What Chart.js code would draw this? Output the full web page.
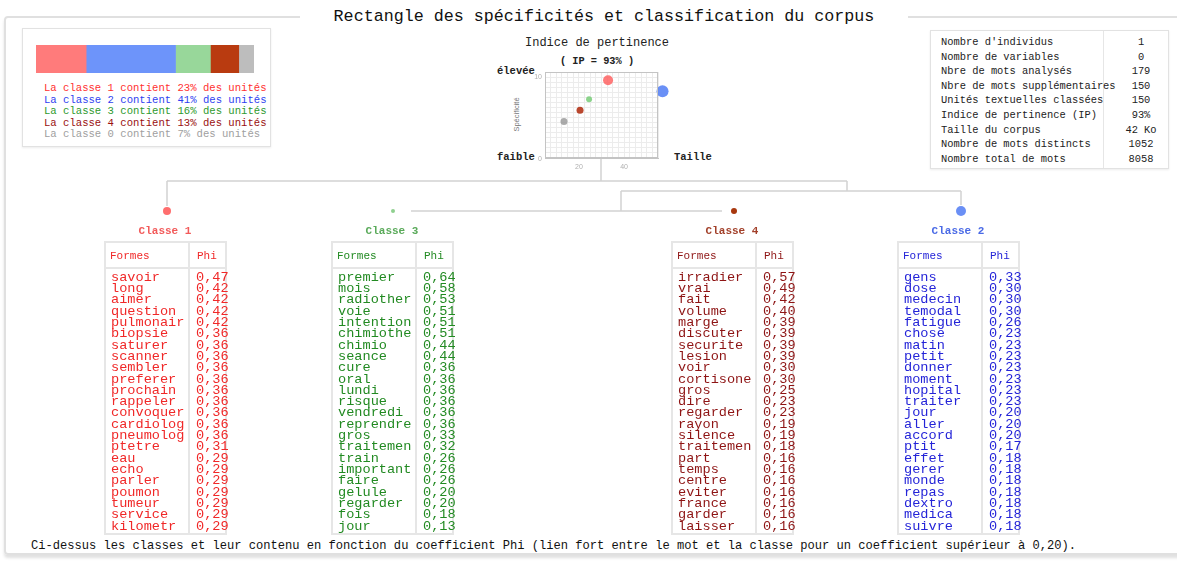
<!DOCTYPE html>
<html>
<head>
<meta charset="utf-8">
<script src="https://cdn.jsdelivr.net/npm/chart.js@4.4.0/dist/chart.umd.min.js"></script>
<style>
  html, body { margin: 0; padding: 0; background: #fff; width: 1177px; height: 567px; overflow: hidden; }
  body { position: relative; font-family: "Liberation Mono", "DejaVu Sans Mono", monospace; color: #222; }
  .abs { position: absolute; }
  #frame { left: 4px; top: 16px; width: 1200px; height: 535px; border: 2px solid #e0e0e0; border-radius: 4px;
           box-shadow: 0 3px 3px rgba(0,0,0,0.12); }
  #title { left: 300px; top: 7px; width: 608px; text-align: center; background: #fff; font-size: 16.7px; line-height: 20px; color: #111; }
  .box { border: 1px solid #e2e2e2; box-shadow: 0 1px 2px rgba(0,0,0,0.08); background: #fff; }
  .legline { font-size: 10.6px; line-height: 11.5px; white-space: pre; }
  .stat { font-size: 10.4px; line-height: 14.6px; white-space: pre; color: #222; }
  .lbl { font-size: 10.5px; font-weight: bold; color: #222; }
  .ctitle { font-size: 11px; font-weight: bold; text-align: center; width: 140px; }
  .tbl { border: 2px solid #e6e6e6; background: #fff; }
  .tbl .head { height: 24px; border-bottom: 2px solid #e6e6e6; font-size: 11px; line-height: 26px; }
  .tbl .div { position: absolute; top: 0; bottom: 0; width: 0; border-left: 2px solid #e6e6e6; }
  .col { position: absolute; font-size: 13.6px; line-height: 11.32px; white-space: pre; }
  #foot { left: 31px; top: 539px; font-size: 12.1px; line-height: 14px; white-space: pre; color: #111; }
</style>
</head>
<body>
<div id="frame" class="abs"></div>
<div id="title" class="abs">Rectangle des spécificités et classification du corpus</div>

<div class="abs box" style="left:22px;top:28px;width:247px;height:117px;"></div>
<canvas id="propChart" class="abs" width="218" height="28" style="left:36px;top:45px;"></canvas>
<div id="legend" class="abs" style="left:44px;top:83px;"></div>

<div class="abs" style="left:480px;top:35px;width:234px;text-align:center;font-size:12px;line-height:16px;">Indice de pertinence</div>
<div class="abs" style="left:480px;top:54px;width:234px;text-align:center;font-size:10.3px;font-weight:bold;line-height:14px;">( IP = 93% )</div>
<div class="abs lbl" style="left:497px;top:65px;">élevée</div>
<div class="abs lbl" style="left:497px;top:151px;">faible</div>
<div class="abs lbl" style="left:674px;top:151px;">Taille</div>
<div class="abs" style="left:488px;top:110px;width:56px;text-align:center;font-size:7.5px;color:#777;transform:rotate(-90deg);font-family:'Liberation Sans',sans-serif;">Spécificité</div>
<canvas id="ipChart" class="abs" width="230" height="115" style="left:480px;top:60px;"></canvas>

<div class="abs box" style="left:930px;top:30px;width:237px;height:137px;"></div>
<div class="abs" style="left:1103px;top:31px;height:137px;border-left:1px solid #e6e6e6;"></div>
<div id="stats" class="abs" style="left:941px;top:35px;"></div>

<canvas id="treeChart" class="abs" width="930" height="80" style="left:100px;top:150px;"></canvas>
<div id="tables"></div>

<div id="foot" class="abs">Ci-dessus les classes et leur contenu en fonction du coefficient Phi (lien fort entre le mot et la classe pour un coefficient supérieur à 0,20).</div>

<script>
// classes, in the order they appear in the legend
const classNames = ['La classe 1', 'La classe 2', 'La classe 3', 'La classe 4', 'La classe 0'];
const classShare = [23, 41, 16, 13, 7];
const barColors = ['#ff7b7b', '#6d94fa', '#98d79a', '#b93b10', '#bdbdbd'];
const textColors = ['#ff3030', '#2f3ff0', '#2e9a2e', '#9a1010', '#a0a0a0'];

// indice de pertinence : taille (x) / specificite (y)
const ipTaille = [32.9, 57, 24.5, 20.5, 13.4];
const ipSpecif = [9.6, 8.25, 7.25, 5.9, 4.5];
const ipRadius = [5, 6, 3, 3.5, 3.5];
const ipColors = ['rgba(255,90,90,0.8)', 'rgba(80,125,245,0.85)', 'rgba(120,205,120,0.85)', 'rgba(175,40,10,0.85)', 'rgba(150,150,150,0.8)'];

// statistiques du corpus
const statLabels = ["Nombre d'individus", 'Nombre de variables', 'Nbre de mots analysés', 'Nbre de mots supplémentaires',
  'Unités textuelles classées', 'Indice de pertinence (IP)', 'Taille du corpus', 'Nombre de mots distincts', 'Nombre total de mots'];
const statValues = ['1', '0', '179', '150', '150', '93%', '42 Ko', '1052', '8058'];

// dendrogramme : feuilles (ordre d'affichage) et noeuds
const leafNames = ['Classe 1', 'Classe 3', 'Classe 4', 'Classe 2'];
const leafX = [167, 393, 734, 961];
const leafR = [4, 2, 3, 5];
const leafDot = ['#ff6e6e', '#8fd08f', '#a8380e', '#6a8ff5'];
const leafTitle = ['#f25a5a', '#5aaa5a', '#a2402a', '#4a6ae6'];
const treeSegs = [
  [601, 30, 601, 52], [167, 30, 847, 30], [167, 30, 167, 5], [847, 30, 847, 20],
  [621, 20, 961, 20], [961, 20, 961, 6], [621, 20, 621, 0], [411, 0, 722, 0]
];

// formes et phi par classe (ordre d'affichage)
const formes1 = ['savoir', 'long', 'aimer', 'question', 'pulmonair', 'biopsie', 'saturer', 'scanner', 'sembler', 'preferer', 'prochain', 'rappeler',
  'convoquer', 'cardiolog', 'pneumolog', 'ptetre', 'eau', 'echo', 'parler', 'poumon', 'tumeur', 'service', 'kilometr'];
const phi1 = [0.47, 0.42, 0.42, 0.42, 0.42, 0.36, 0.36, 0.36, 0.36, 0.36, 0.36, 0.36, 0.36, 0.36, 0.36, 0.31, 0.29, 0.29, 0.29, 0.29, 0.29, 0.29, 0.29];
const formes3 = ['premier', 'mois', 'radiother', 'voie', 'intention', 'chimiothe', 'chimio', 'seance', 'cure', 'oral', 'lundi', 'risque',
  'vendredi', 'reprendre', 'gros', 'traitemen', 'train', 'important', 'faire', 'gelule', 'regarder', 'fois', 'jour'];
const phi3 = [0.64, 0.58, 0.53, 0.51, 0.51, 0.51, 0.44, 0.44, 0.36, 0.36, 0.36, 0.36, 0.36, 0.36, 0.33, 0.32, 0.26, 0.26, 0.26, 0.20, 0.20, 0.18, 0.13];
const formes4 = ['irradier', 'vrai', 'fait', 'volume', 'marge', 'discuter', 'securite', 'lesion', 'voir', 'cortisone', 'gros', 'dire',
  'regarder', 'rayon', 'silence', 'traitemen', 'part', 'temps', 'centre', 'eviter', 'france', 'garder', 'laisser'];
const phi4 = [0.57, 0.49, 0.42, 0.40, 0.39, 0.39, 0.39, 0.39, 0.30, 0.30, 0.25, 0.23, 0.23, 0.19, 0.19, 0.18, 0.16, 0.16, 0.16, 0.16, 0.16, 0.16, 0.16];
const formes2 = ['gens', 'dose', 'medecin', 'temodal', 'fatigue', 'chose', 'matin', 'petit', 'donner', 'moment', 'hopital', 'traiter',
  'jour', 'aller', 'accord', 'ptit', 'effet', 'gerer', 'monde', 'repas', 'dextro', 'medica', 'suivre'];
const phi2 = [0.33, 0.30, 0.30, 0.30, 0.26, 0.23, 0.23, 0.23, 0.23, 0.23, 0.23, 0.23, 0.20, 0.20, 0.20, 0.17, 0.18, 0.18, 0.18, 0.18, 0.18, 0.18, 0.18];

const tableLeft = [104, 331, 671, 897];
const tableColor = ['#f02828', '#228a22', '#8e1414', '#2424d8'];
const tableData = [[formes1, phi1], [formes3, phi3], [formes4, phi4], [formes2, phi2]];

// legende du haut a gauche
const legend = document.getElementById('legend');
classNames.forEach((n, i) => {
  const d = document.createElement('div');
  d.className = 'legline';
  d.style.color = textColors[i];
  d.textContent = n + ' contient ' + classShare[i] + '% des unités';
  legend.appendChild(d);
});

// tableau des stats
const stats = document.getElementById('stats');
statLabels.forEach((l, i) => {
  const d = document.createElement('div');
  d.className = 'stat';
  d.style.position = 'relative';
  d.textContent = l;
  const v = document.createElement('span');
  v.style.cssText = 'position:absolute;left:172px;width:56px;text-align:center;top:0;';
  v.textContent = statValues[i];
  d.appendChild(v);
  stats.appendChild(d);
});

// tables des classes
const tables = document.getElementById('tables');
tableData.forEach(([words, phis], i) => {
  const left = tableLeft[i];
  const t = document.createElement('div');
  t.className = 'abs ctitle';
  t.style.cssText += `left:${left + 61 - 70}px;top:225px;color:${leafTitle[i]};`;
  t.textContent = leafNames[i];
  tables.appendChild(t);

  const box = document.createElement('div');
  box.className = 'abs tbl';
  box.style.cssText += `left:${left}px;top:241px;width:119px;height:290px;color:${tableColor[i]};`;
  box.innerHTML = `<div class="head"><span style="position:absolute;left:4px;">Formes</span><span style="position:absolute;left:91px;">Phi</span></div><div class="div" style="left:82px;"></div>`;
  const wc = document.createElement('div');
  wc.className = 'col';
  wc.style.cssText += 'left:5px;top:28.7px;';
  wc.textContent = words.join('\n');
  box.appendChild(wc);
  const pc = document.createElement('div');
  pc.className = 'col';
  pc.style.cssText += 'left:90px;top:28.7px;';
  pc.textContent = phis.map(p => p.toFixed(2).replace('.', ',')).join('\n');
  box.appendChild(pc);
  tables.appendChild(box);
});

Chart.defaults.animation = false;

// barre de repartition des classes
new Chart(document.getElementById('propChart'), {
  type: 'bar',
  data: {
    labels: [''],
    datasets: classNames.map((n, i) => ({
      label: n, data: [classShare[i]], backgroundColor: barColors[i],
      barPercentage: 1, categoryPercentage: 1, borderWidth: 0
    }))
  },
  options: {
    indexAxis: 'y', responsive: false,
    layout: { padding: 0, autoPadding: false },
    plugins: { legend: { display: false }, tooltip: { enabled: false } },
    scales: {
      x: { stacked: true, min: 0, max: 100, display: false },
      y: { stacked: true, display: false }
    }
  }
});

// etiquettes des axes du graphe de pertinence
const ipLabels = {
  id: 'ipLabels',
  afterDraw(chart) {
    const { ctx, scales: { x, y }, chartArea } = chart;
    ctx.save();
    ctx.font = '7px "Liberation Sans", sans-serif';
    ctx.fillStyle = '#b0b0b0';
    ctx.textAlign = 'right';
    ctx.textBaseline = 'middle';
    [0, 10].forEach(v => ctx.fillText(String(v), chartArea.left - 3, y.getPixelForValue(v) + (v === 0 ? 1 : 0)));
    ctx.textAlign = 'center';
    ctx.textBaseline = 'top';
    [20, 40].forEach(v => ctx.fillText(String(v), x.getPixelForValue(v), chartArea.bottom + 6));
    ctx.restore();
  }
};

new Chart(document.getElementById('ipChart'), {
  type: 'bubble',
  data: {
    datasets: [{
      data: ipTaille.map((t, i) => ({ x: t, y: ipSpecif[i], r: ipRadius[i] })),
      backgroundColor: ipColors, borderWidth: 0, clip: false
    }]
  },
  options: {
    responsive: false,
    layout: { padding: { left: 65, right: 52, top: 12, bottom: 17 }, autoPadding: false },
    plugins: { legend: { display: false }, tooltip: { enabled: false } },
    scales: {
      x: { type: 'linear', min: 5, max: 55, ticks: { display: false, stepSize: 2.5 },
           grid: { color: '#ececec', drawTicks: false }, border: { color: '#c4c4c4', width: 1 } },
      y: { type: 'linear', min: 0, max: 10.625, ticks: { display: false, stepSize: 0.625 },
           grid: { color: '#ececec', drawTicks: false }, border: { color: '#c4c4c4', width: 1 } }
    }
  },
  plugins: [ipLabels, {
    id: 'frameBox',
    afterDatasetsDraw(chart) {
      const { ctx, chartArea: a } = chart;
      ctx.save();
      ctx.strokeStyle = '#c4c4c4';
      ctx.lineWidth = 1;
      ctx.strokeRect(a.left + 0.5, a.top + 0.5, a.right - a.left - 1, a.bottom - a.top - 1);
      ctx.restore();
    }
  }]
});

// dendrogramme
new Chart(document.getElementById('treeChart'), {
  type: 'scatter',
  data: {
    datasets: treeSegs.map(s => ({
      data: [{ x: s[0], y: s[1] }, { x: s[2], y: s[3] }],
      showLine: true, borderColor: '#d2d2d2', borderWidth: 1.5, pointRadius: 0, clip: false
    })).concat([{
      data: leafX.map(x => ({ x: x, y: 0 })),
      pointRadius: leafR, pointBackgroundColor: leafDot, pointBorderWidth: 0, showLine: false, clip: false
    }])
  },
  options: {
    responsive: false,
    layout: { padding: 0, autoPadding: false },
    plugins: { legend: { display: false }, tooltip: { enabled: false } },
    scales: {
      x: { type: 'linear', min: 100, max: 1030, display: false },
      y: { type: 'linear', min: -19, max: 61, display: false }
    }
  }
});
</script>
</body>
</html>
